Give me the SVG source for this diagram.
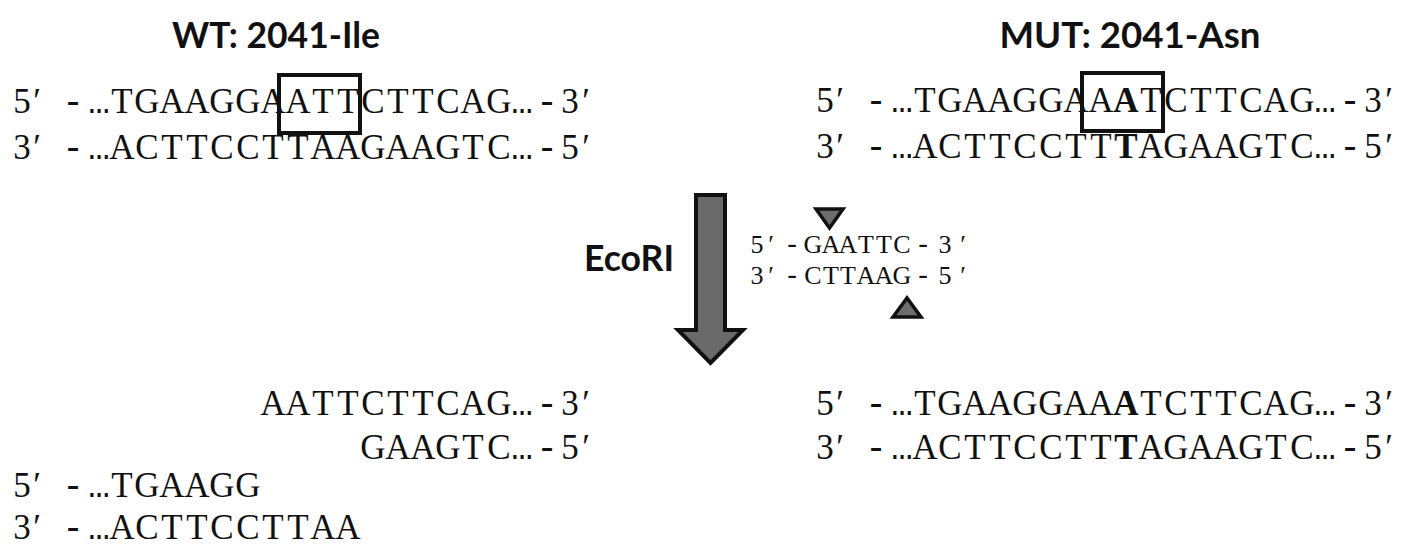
<svg xmlns="http://www.w3.org/2000/svg" width="1403" height="549" viewBox="0 0 1403 549">
  <defs>
    <style>
      /* sequence text: one glyph per fixed-pitch cell, each centred on its x */
      .seq { font-family: "Liberation Serif", "DejaVu Serif", serif; font-size: 35px; fill: #111; text-anchor: middle; }
      .site { font-family: "Liberation Serif", "DejaVu Serif", serif; font-size: 26px; fill: #111; text-anchor: middle; }
      .m { font-family: "Liberation Mono", "DejaVu Sans Mono", monospace; font-size: 36px; }
      .site .m { font-size: 27px; }
      .b { font-weight: bold; }
      .title { font-family: Lato, "Liberation Sans", sans-serif; font-weight: bold; font-size: 36px; fill: #111; }
      .box { fill: none; stroke: #111; stroke-width: 4; }
      .cut { fill: #6e6e6e; stroke: #111; stroke-width: 3.5; stroke-linejoin: miter; }
      .digest { fill: #6a6a6a; stroke: #111; stroke-width: 4; stroke-linejoin: miter; }
    </style>
  </defs>

  <!-- wild-type duplex -->
  <g id="wt">
    <text class="title" x="276" y="48" text-anchor="middle" textLength="208" lengthAdjust="spacingAndGlyphs">WT: 2041-Ile</text>
    <text class="seq" x="22 37 73 99 122 147 172 197 222 248 273 298 323 348 373 398 423 448 473 499 522 547 570 586" y="113">5′<tspan class="m">-…</tspan>TGAAGGAATTCTTCAG<tspan class="m">…-</tspan>3′</text>
    <text class="seq" x="22 37 73 99 122 147 172 197 222 248 273 298 323 348 373 398 423 448 473 499 522 547 570 586" y="159">3′<tspan class="m">-…</tspan>ACTTCCTTAAGAAGTC<tspan class="m">…-</tspan>5′</text>
    <rect class="box" x="279" y="75" width="81" height="58"/>
  </g>

  <!-- mutant duplex -->
  <g id="mut">
    <text class="title" x="1130" y="48" text-anchor="middle" textLength="261" lengthAdjust="spacingAndGlyphs">MUT: 2041-Asn</text>
    <text class="seq" x="825 840 876 902 925 950 975 1000 1025 1051 1076 1101 1126 1151 1176 1201 1226 1251 1276 1302 1325 1350 1373 1389" y="112">5′<tspan class="m">-…</tspan>TGAAGGAA<tspan class="b">A</tspan>TCTTCAG<tspan class="m">…-</tspan>3′</text>
    <text class="seq" x="825 840 876 902 925 950 975 1000 1025 1051 1076 1101 1126 1151 1176 1201 1226 1251 1276 1302 1325 1350 1373 1389" y="158">3′<tspan class="m">-…</tspan>ACTTCCTT<tspan class="b">T</tspan>AGAAGTC<tspan class="m">…-</tspan>5′</text>
    <rect class="box" x="1082" y="73" width="81" height="58"/>
  </g>

  <!-- EcoRI recognition site with cut marks -->
  <g id="ecori-site">
    <text class="site" x="757 771 792 813 831 848 866 884 902 923 945 963" y="253">5′<tspan class="m">-</tspan>GAATTC<tspan class="m">-</tspan>3′</text>
    <text class="site" x="757 771 792 813 831 848 866 884 902 923 945 963" y="284">3′<tspan class="m">-</tspan>CTTAAG<tspan class="m">-</tspan>5′</text>
    <path class="cut" d="M816,209 H843 L829.5,228 Z"/>
    <path class="cut" d="M893,317 H921 L907,298 Z"/>
  </g>

  <!-- digestion step -->
  <g id="connectors">
    <path class="digest" d="M696,195 H725 V330 H743 L710.5,363 L678,330 H696 Z"/>
    <text class="title" x="584" y="271" textLength="90" lengthAdjust="spacingAndGlyphs">EcoRI</text>
  </g>

  <!-- wild-type products: cut fragments -->
  <g id="wt-cut">
    <text class="seq" x="273 298 323 348 373 398 423 448 473 499 522 547 570 586" y="415">AATTCTTCAG<tspan class="m">…-</tspan>3′</text>
    <text class="seq" x="373 398 423 448 473 499 522 547 570 586" y="459">GAAGTC<tspan class="m">…-</tspan>5′</text>
    <text class="seq" x="22 37 73 99 122 147 172 197 222 248" y="497">5′<tspan class="m">-…</tspan>TGAAGG</text>
    <text class="seq" x="22 37 73 99 122 147 172 197 222 248 273 298 323 348" y="539">3′<tspan class="m">-…</tspan>ACTTCCTTAA</text>
  </g>

  <!-- mutant product: uncut -->
  <g id="mut-uncut">
    <text class="seq" x="825 840 876 902 925 950 975 1000 1025 1051 1076 1101 1126 1151 1176 1201 1226 1251 1276 1302 1325 1350 1373 1389" y="415">5′<tspan class="m">-…</tspan>TGAAGGAA<tspan class="b">A</tspan>TCTTCAG<tspan class="m">…-</tspan>3′</text>
    <text class="seq" x="825 840 876 902 925 950 975 1000 1025 1051 1076 1101 1126 1151 1176 1201 1226 1251 1276 1302 1325 1350 1373 1389" y="459">3′<tspan class="m">-…</tspan>ACTTCCTT<tspan class="b">T</tspan>AGAAGTC<tspan class="m">…-</tspan>5′</text>
  </g>
</svg>
